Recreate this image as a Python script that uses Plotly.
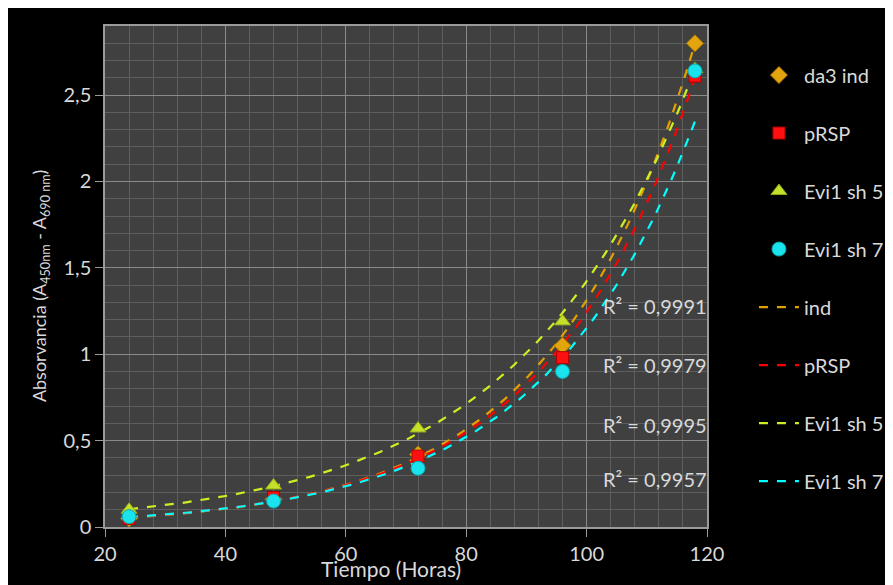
import numpy as np
import plotly.graph_objects as go

# ---- data ----
horas = [24, 48, 72, 96, 118]
da3_ind = [0.05, 0.16, 0.42, 1.05, 2.80]
prsp = [0.05, 0.17, 0.41, 0.98, 2.61]
evi1_sh5 = [0.10, 0.24, 0.57, 1.19, 2.65]
evi1_sh7 = [0.06, 0.15, 0.34, 0.90, 2.64]
r2_labels = ["R² = 0,9991", "R² = 0,9979", "R² = 0,9995", "R² = 0,9957"]
r2_y = [1.28, 0.94, 0.59, 0.28]

FONT = "Lato"
TXT = "#d9d9d9"

series = [
    ("da3 ind", da3_ind, "diamond", "#E3A50E", "#B07A00", 13),
    ("pRSP", prsp, "square", "#FF1010", "#B00000", 12),
    ("Evi1 sh 5", evi1_sh5, "triangle-up", "#C6E02A", "#8EA818", 14),
    ("Evi1 sh 7", evi1_sh7, "circle", "#19E3EC", "#08A8B0", 14),
]
trend = [
    ("ind", da3_ind, "#E3A000"),
    ("pRSP", prsp, "#FF0000"),
    ("Evi1 sh 5", evi1_sh5, "#CCEE22"),
    ("Evi1 sh 7", evi1_sh7, "#00FFFF"),
]

fig = go.Figure()
# exponential trendlines (least squares on ln y, as Excel does)
xs = np.linspace(min(horas), max(horas), 120)
for i, (name, ys, col) in enumerate(trend):
    b, a = np.polyfit(horas, np.log(ys), 1)
    fig.add_trace(go.Scatter(
        x=xs, y=np.exp(a) * np.exp(b * xs), mode="lines", name=name,
        line=dict(color=col, width=2.2, dash="dash"),
        legendgroup=f"t{i}", legendrank=10 + i,
    ))
for i, (name, ys, sym, col, edge, sz) in enumerate(series):
    fig.add_trace(go.Scatter(
        x=horas, y=ys, mode="markers", name=name,
        marker=dict(symbol=sym, color=col, size=sz, line=dict(color=edge, width=1)),
        legendgroup=f"m{i}", legendrank=i,
    ))

ann = []
for txt, yv in zip(r2_labels, r2_y):
    ann.append(dict(x=1.003, xref="paper", y=yv, yref="y", text=txt, showarrow=False,
                    xanchor="right", yanchor="middle",
                    font=dict(family=FONT, size=20, color=TXT)))
ann.append(dict(x=0.475, xref="paper", y=-0.082, yref="paper", text="Tiempo (Horas)",
                showarrow=False, xanchor="center", yanchor="middle",
                font=dict(family=FONT, size=21, color=TXT)))
ann.append(dict(x=-0.107, xref="paper", y=0.48, yref="paper",
                text="Absorvancia (A<sub>450nm</sub> - A<sub>690 nm</sub>)",
                textangle=-90, showarrow=False, xanchor="center", yanchor="middle",
                font=dict(family=FONT, size=18, color=TXT)))

fig.update_layout(
    width=893, height=585,
    margin=dict(l=97, r=190, t=18, b=66),
    paper_bgcolor="#000000", plot_bgcolor="#404040",
    separators=", ",
    font=dict(family=FONT, size=18, color=TXT),
    showlegend=True,
    legend=dict(x=1.078, y=0.941, xanchor="left", yanchor="top",
                font=dict(family=FONT, size=20, color=TXT),
                tracegroupgap=29, bgcolor="rgba(0,0,0,0)", itemwidth=40),
    annotations=ann,
)
fig.update_xaxes(
    range=[20, 120], dtick=20, tick0=20,
    showgrid=True, gridcolor="#8a8a8a", gridwidth=1,
    minor=dict(dtick=4, showgrid=True, gridcolor="#5e5e5e", gridwidth=1),
    showline=True, linecolor="#9a9a9a", linewidth=1.5, mirror=True,
    ticks="outside", ticklen=8, tickcolor="#9a9a9a",
    tickfont=dict(family=FONT, size=20, color=TXT), zeroline=False,
)
fig.update_yaxes(
    range=[0, 2.9], tickvals=[0, 0.5, 1, 1.5, 2, 2.5],
    showgrid=True, gridcolor="#8a8a8a", gridwidth=1,
    minor=dict(dtick=0.1, showgrid=True, gridcolor="#5e5e5e", gridwidth=1),
    showline=True, linecolor="#9a9a9a", linewidth=1.5, mirror=True,
    ticks="outside", ticklen=8, tickcolor="#9a9a9a",
    tickfont=dict(family=FONT, size=20, color=TXT), zeroline=False,
)
fig.write_html("out.html")
